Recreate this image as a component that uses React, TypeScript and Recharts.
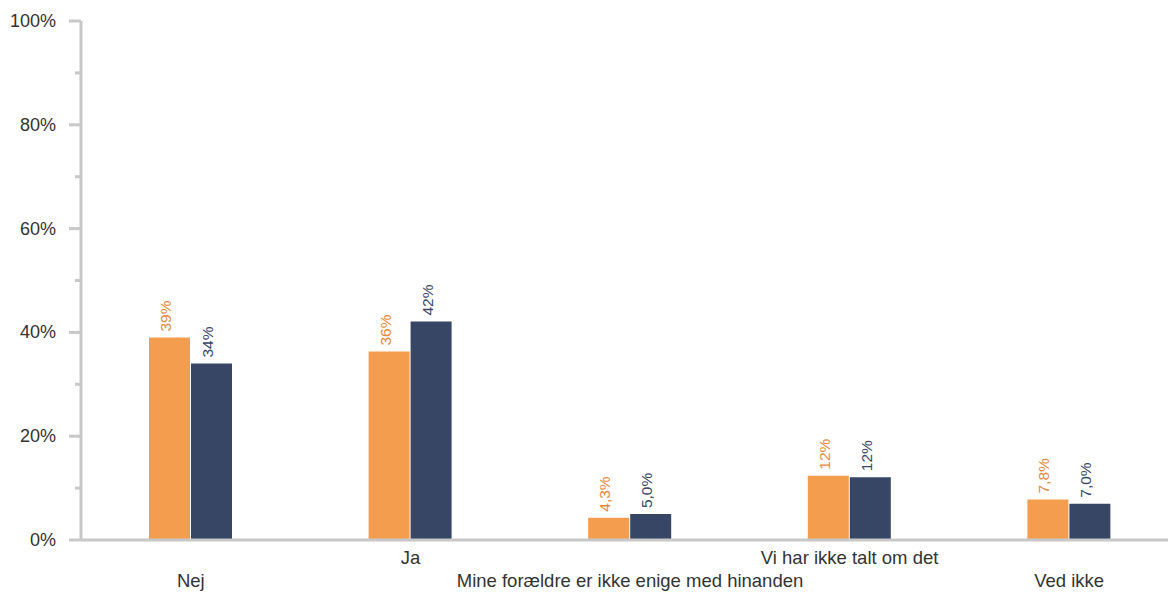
import React from "react";
import { BarChart, Bar, XAxis, YAxis, LabelList } from "recharts";

const categories = [
  "Nej",
  "Ja",
  "Mine forældre er ikke enige med hinanden",
  "Vi har ikke talt om det",
  "Ved ikke",
];
const seriesOrange = [39.0, 36.3, 4.3, 12.4, 7.8];
const seriesNavy = [34.0, 42.1, 5.0, 12.1, 7.0];
const yTicks = [0, 10, 20, 30, 40, 50, 60, 70, 80, 90, 100];

const data = categories.map((c, i) => ({
  name: c,
  a: seriesOrange[i],
  b: seriesNavy[i],
}));

const ORANGE = "#F49D4F";
const NAVY = "#374664";
const ORANGE_TXT = "#E48A3C";
const NAVY_TXT = "#3A4767";
const AXIS = "#C8C8C8";
const FONT = "'Liberation Sans', Arial, sans-serif";
const AXIS_X = 81;

const fmt = (v: number) =>
  v >= 10 ? `${Math.round(v)}%` : `${v.toFixed(1).replace(".", ",")}%`;

const YTick = (props: any) => {
  const { y, payload } = props;
  const v = payload.value;
  const major = v % 20 === 0;
  return (
    <g>
      <line
        x1={major ? 69 : 75}
        x2={AXIS_X}
        y1={y}
        y2={y}
        stroke={AXIS}
        strokeWidth={3}
      />
      {major && (
        <text
          x={56}
          y={y}
          textAnchor="end"
          dominantBaseline="central"
          fontFamily={FONT}
          fontSize={18}
          fill="#333333"
        >
          {`${v}%`}
        </text>
      )}
    </g>
  );
};

const XTick = (props: any) => {
  const { x, payload, index } = props;
  const upper = index % 2 === 1;
  return (
    <text
      x={x}
      y={upper ? 564 : 587}
      textAnchor="middle"
      fontFamily={FONT}
      fontSize={18.5}
      fill="#333333"
    >
      {payload.value}
    </text>
  );
};

const makeLabel = (color: string) => (props: any) => {
  const { x, y, width, value } = props;
  const cx = x + width / 2 - 4;
  const ty = y - 6;
  return (
    <text
      x={cx}
      y={ty}
      transform={`rotate(-90 ${cx} ${ty})`}
      textAnchor="start"
      dominantBaseline="central"
      fontFamily={FONT}
      fontSize={15.5}
      fill={color}
    >
      {fmt(value)}
    </text>
  );
};

export default function App() {
  return (
    <div
      style={{
        position: "fixed",
        left: 0,
        top: 0,
        width: 1168,
        height: 592,
        overflow: "hidden",
        background: "#fff",
      }}
    >
      <BarChart
        width={1180}
        height={592}
        data={data}
        margin={{ top: 21, right: 1, bottom: 0, left: 1 }}
        barSize={41}
        barGap={1}
      >
        <XAxis
          dataKey="name"
          height={52}
          interval={0}
          tickLine={false}
          axisLine={{ stroke: AXIS, strokeWidth: 3 }}
          tick={<XTick />}
        />
        <YAxis
          width={80}
          domain={[0, 100]}
          ticks={yTicks}
          interval={0}
          tickLine={false}
          axisLine={{ stroke: AXIS, strokeWidth: 3 }}
          tick={<YTick />}
        />
        <Bar dataKey="a" fill={ORANGE} isAnimationActive={false}>
          <LabelList dataKey="a" content={makeLabel(ORANGE_TXT)} />
        </Bar>
        <Bar dataKey="b" fill={NAVY} isAnimationActive={false}>
          <LabelList dataKey="b" content={makeLabel(NAVY_TXT)} />
        </Bar>
      </BarChart>
    </div>
  );
}
